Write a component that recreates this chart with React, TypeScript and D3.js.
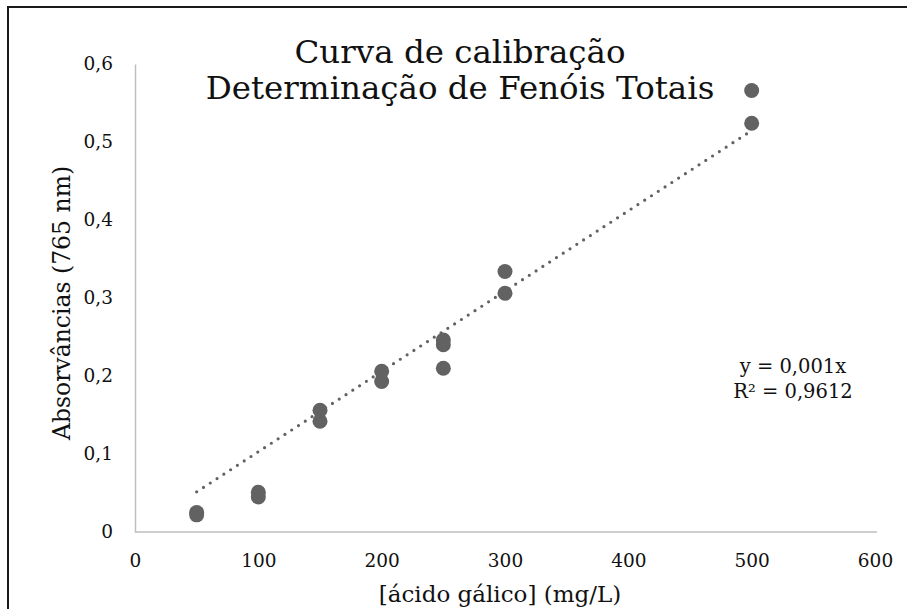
import { useEffect, useRef } from "react";
import * as d3 from "d3";

// concentração de ácido gálico (mg/L) e absorvâncias lidas a 765 nm
const concentrations = [50, 50, 100, 100, 150, 150, 200, 200, 250, 250, 250, 300, 300, 500, 500];
const absorbances = [0.025, 0.022, 0.051, 0.045, 0.156, 0.142, 0.206, 0.193, 0.246, 0.24, 0.21, 0.334, 0.306, 0.566, 0.524];

const xTicks = [0, 100, 200, 300, 400, 500, 600];
const yTicks = [0, 0.1, 0.2, 0.3, 0.4, 0.5, 0.6];

const titleLines = ["Curva de calibração", "Determinação de Fenóis Totais"];
const xTitle = "[ácido gálico] (mg/L)";
const yTitle = "Absorvâncias (765 nm)";
const equation = ["y = 0,001x", "R² = 0,9612"];

const W = 907;
const H = 609;
const FONT = "'DejaVu Serif', Georgia, serif";
const GREY = "#626262";

const App = () => {
  const svgRef = useRef<SVGSVGElement | null>(null);

  useEffect(() => {
    const svg = d3.select(svgRef.current);
    svg.selectAll("*").remove();

    const data = concentrations.map((c, i) => ({ x: c, y: absorbances[i] }));

    const x = d3.scaleLinear().domain([0, 600]).range([135, 875]);
    const y = d3.scaleLinear().domain([0, 0.6]).range([532, 64]);

    // chart border (right and bottom edges fall outside the picture)
    svg
      .append("rect")
      .attr("x", 8)
      .attr("y", 7)
      .attr("width", 910)
      .attr("height", 640)
      .attr("fill", "white")
      .attr("stroke", "#1a1a1a")
      .attr("stroke-width", 2);

    // axes
    const xAxis = svg
      .append("g")
      .attr("transform", `translate(0,${y(0)})`)
      .call(d3.axisBottom(x).tickValues(xTicks).tickSize(0).tickPadding(22).tickFormat((d) => String(d)));
    xAxis.select(".domain").attr("stroke", "#bfbfbf").attr("stroke-width", 1.5).attr("d", `M${x(0)},0H877`);

    const fmt = (d: number) => (d === 0 ? "0" : d3.format(".1f")(d).replace(".", ","));
    const yAxis = svg
      .append("g")
      .attr("transform", `translate(${x(0)},0)`)
      .call(d3.axisLeft(y).tickValues(yTicks).tickSize(0).tickPadding(22).tickFormat((d) => fmt(d as number)));
    yAxis.select(".domain").attr("stroke", "#bfbfbf").attr("stroke-width", 1.5);

    svg
      .selectAll(".tick text")
      .attr("font-family", FONT)
      .attr("font-size", 18.5)
      .attr("fill", "#111");

    // trend line through origin
    const slope = d3.sum(data, (d) => d.x * d.y) / d3.sum(data, (d) => d.x * d.x);
    const [minX, maxX] = d3.extent(concentrations) as [number, number];
    svg
      .append("path")
      .attr(
        "d",
        d3.line<number>()
          .x((d) => x(d))
          .y((d) => y(slope * d))([minX, maxX])
      )
      .attr("fill", "none")
      .attr("stroke", GREY)
      .attr("stroke-width", 3.2)
      .attr("stroke-linecap", "round")
      .attr("stroke-dasharray", "0 8.1");

    // points
    svg
      .append("g")
      .selectAll("circle")
      .data(data)
      .enter()
      .append("circle")
      .attr("cx", (d) => x(d.x))
      .attr("cy", (d) => y(d.y))
      .attr("r", 7.5)
      .attr("fill", GREY);

    // title
    svg
      .append("text")
      .attr("font-family", FONT)
      .attr("font-size", 32.5)
      .attr("text-anchor", "middle")
      .attr("fill", "#111")
      .selectAll("tspan")
      .data(titleLines)
      .enter()
      .append("tspan")
      .attr("x", 460)
      .attr("y", (_, i) => 63 + i * 36)
      .text((d) => d);

    // axis titles
    svg
      .append("text")
      .attr("x", 500)
      .attr("y", 602)
      .attr("text-anchor", "middle")
      .attr("font-family", FONT)
      .attr("font-size", 23)
      .attr("fill", "#111")
      .text(xTitle);

    svg
      .append("text")
      .attr("transform", `translate(70,303) rotate(-90)`)
      .attr("text-anchor", "middle")
      .attr("font-family", FONT)
      .attr("font-size", 23.5)
      .attr("fill", "#111")
      .text(yTitle);

    // equation label
    svg
      .append("text")
      .attr("font-family", FONT)
      .attr("font-size", 19.5)
      .attr("text-anchor", "middle")
      .attr("fill", "#111")
      .selectAll("tspan")
      .data(equation)
      .enter()
      .append("tspan")
      .attr("x", 793)
      .attr("y", (_, i) => 373 + i * 25)
      .text((d) => d);
  }, []);

  return (
    <svg
      ref={svgRef}
      width={W}
      height={H}
      style={{ position: "absolute", left: 0, top: 0, display: "block" }}
    />
  );
};

export default App;
